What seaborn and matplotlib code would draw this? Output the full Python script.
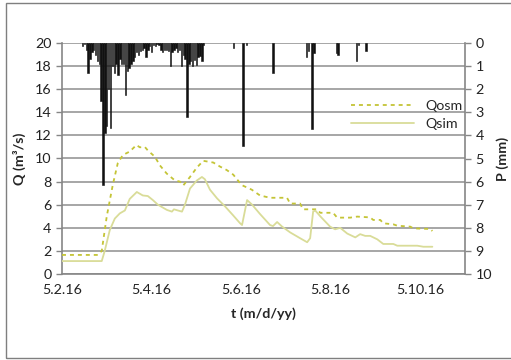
import matplotlib
matplotlib.use("Agg")
import matplotlib.pyplot as plt
import matplotlib.patches as mpatches
import seaborn as sns
import pandas as pd
import numpy as np

# ---------------- data ----------------
start = "2016-05-02"
# Observed discharge (hours since start, m3/s)
qosm_hours = [0, 19.2, 21.3, 24.0, 27.2, 29.9, 32.6, 36.3, 39.9, 41.7, 44.4, 46.0, 49.8,
              52.5, 56.1, 60.5, 63.2, 65.0, 68.6, 72.2, 75.7, 81.1, 84.7, 88.3, 91.8,
              96.3, 101.7, 106.1, 111.5, 120.6, 122.3, 127.6, 129.2, 136.8, 138.4,
              145.3, 147.5, 154.5, 158.2, 165.2, 166.8, 170.6, 172.2, 177.6, 179.7,
              186.7, 188.3, 197.4, 198.5]
qosm_vals = [1.65, 1.65, 2.0, 5.0, 7.7, 9.6, 10.3, 10.6, 11.17, 10.97, 11.0, 10.7, 10.15,
             9.4, 8.7, 8.1, 8.0, 7.67, 8.4, 9.2, 9.8, 9.65, 9.3, 9.0, 8.6,
             7.7, 7.3, 6.8, 6.6, 6.6, 6.1, 6.1, 5.6, 5.6, 5.3,
             5.3, 4.88, 4.88, 4.97, 4.9, 4.68, 4.68, 4.39, 4.3, 4.18,
             4.1, 3.95, 3.9, 3.72]
# Simulated discharge
qsim_hours = [0, 21.3, 22.9, 25.6, 28.3, 31.0, 33.7, 36.3, 40.1, 43.3, 46.0, 48.7, 51.4,
              56.2, 58.9, 60.0, 62.1, 64.3, 65.9, 68.6, 72.3, 75.0, 76.6, 79.3, 83.1,
              87.4, 91.6, 95.4, 96.5, 99.2, 101.9, 106.1, 111.5, 113.1, 115.3, 118.0,
              122.3, 127.6, 131.4, 133.0, 134.6, 135.7, 138.4, 143.7, 146.4, 149.1,
              152.9, 157.2, 159.8, 162.5, 165.2, 169.0, 172.2, 177.6, 179.7, 190.4,
              193.7, 198.5]
qsim_vals = [1.12, 1.12, 2.0, 3.8, 4.8, 5.25, 5.5, 6.5, 7.1, 6.8, 6.75, 6.4, 6.0,
             5.55, 5.4, 5.6, 5.5, 5.4, 6.0, 7.4, 8.1, 8.4, 8.2, 7.3, 6.55,
             5.85, 5.1, 4.4, 4.24, 6.4, 6.0, 5.2, 4.24, 4.15, 4.5, 4.1,
             3.6, 3.1, 2.75, 3.1, 5.4, 5.5, 5.0, 4.1, 3.87, 4.0,
             3.5, 3.17, 3.45, 3.3, 3.3, 3.0, 2.6, 2.6, 2.45, 2.45,
             2.36, 2.36]
# Precipitation (hourly, mm)
p_hours = list(range(11, 77)) + [92, 97, 99, 113, 131, 132, 134, 135, 147, 148, 158, 159, 163]
p_vals = [0.15, 0.05, 0.3, 1.3, 0.7, 0.4, 0.3, 0.5, 0.8, 0.9,
          2.5, 6.15, 3.9, 3.6, 2.0, 3.7, 1.0, 1.3, 0.9, 1.4,
          0.7, 0.9, 0.9, 2.25, 1.2, 1.1, 0.9, 0.8, 0.6, 0.4,
          0.5, 0.35, 0.3, 0.2, 0.6, 0.3, 0.15, 0.4, 0.1, 0.15,
          0.05, 0.1, 0.3, 0.4, 0.3, 0.3, 0.35, 1.0, 0.4, 0.3,
          0.2, 0.4, 0.3, 1.0, 0.5, 0.7, 3.2, 0.9, 0.8, 1.0,
          0.75, 0.95, 0.6, 0.55, 0.8, 0.1,
          0.22, 4.45, 0.1, 1.28, 0.6, 0.35, 3.72, 0.43, 0.43, 0.5, 0.8, 0.1, 0.35]
tick_dates = ["2016-05-02", "2016-05-04", "2016-05-06", "2016-05-08", "2016-05-10"]
tick_labels = ["5.2.16", "5.4.16", "5.6.16", "5.8.16", "5.10.16"]
q_ticks = [0, 2, 4, 6, 8, 10, 12, 14, 16, 18, 20]
p_ticks = [0, 1, 2, 3, 4, 5, 6, 7, 8, 9, 10]

# ---------------- build frames ----------------
t0 = pd.Timestamp(start)
df_osm = pd.DataFrame({"t": t0 + pd.to_timedelta(qosm_hours, unit="h"), "Q": qosm_vals})
df_sim = pd.DataFrame({"t": t0 + pd.to_timedelta(qsim_hours, unit="h"), "Q": qsim_vals})
df_p = pd.DataFrame({"t": t0 + pd.to_timedelta(p_hours, unit="h"), "P": p_vals})

sns.set_theme(style="white")
plt.rcParams["font.family"] = ["Lato", "DejaVu Sans"]

fig = plt.figure(figsize=(5.11, 3.60), dpi=100)
ax = fig.add_axes([62 / 511, 1 - 274 / 360, (465 - 62) / 511, (274 - 43) / 360])

grid_c = "#a6a6a6"
axis_c = "#868686"
c_osm = "#c4c436"
c_sim = "#d9dc98"
fs = 10.3

for y in q_ticks:
    ax.axhline(y, color=grid_c, lw=1.4, zorder=0)

sns.lineplot(data=df_osm, x="t", y="Q", ax=ax, color=c_osm, lw=1.3,
             linestyle=(0, (2.2, 2.2)), label="Qosm", zorder=3)
sns.lineplot(data=df_sim, x="t", y="Q", ax=ax, color=c_sim, lw=1.3,
             label="Qsim", zorder=3)

ax.set_xlim(pd.Timestamp("2016-05-02"), pd.Timestamp("2016-05-11"))
ax.set_ylim(0, 20)
ax.set_xticks(pd.to_datetime(tick_dates))
ax.set_xticklabels(tick_labels)
ax.set_yticks(q_ticks)
ax.tick_params(axis="both", labelsize=fs, colors="#222222", length=4,
               width=1, direction="out")
ax.tick_params(axis="both", color=axis_c)
for s in ["top", "right"]:
    ax.spines[s].set_visible(False)
for s in ["left", "bottom"]:
    ax.spines[s].set_color(axis_c)
    ax.spines[s].set_linewidth(1.2)
ax.set_xlabel("t (m/d/yy)", fontsize=fs, fontweight="bold", labelpad=8)
ax.set_ylabel("Q (m³/s)", fontsize=fs, fontweight="bold", labelpad=6)

leg = ax.legend(loc="upper left", bbox_to_anchor=(0.685, 0.81), frameon=False,
                fontsize=fs, handlelength=4.4, handletextpad=0.8, labelspacing=0.45)

ax2 = ax.twinx()
ax2.bar(df_p["t"], df_p["P"], width=0.75 / 24, color="#111111",
        edgecolor="#111111", linewidth=0.4, zorder=2)
ax2.set_ylim(10, 0)
ax2.set_yticks(p_ticks)
ax2.tick_params(axis="y", labelsize=fs, colors="#222222", length=4, width=1, direction="out")
ax2.tick_params(axis="y", color=axis_c)
for s in ["top", "left", "bottom"]:
    ax2.spines[s].set_visible(False)
ax2.spines["right"].set_color(axis_c)
ax2.spines["right"].set_linewidth(1.2)
ax2.set_ylabel("P (mm)", fontsize=fs, fontweight="bold", labelpad=3)
ax2.grid(False)

fig.patches.append(mpatches.Rectangle((6 / 511, 1 - 358 / 360), (520 - 6) / 511, (358 - 3) / 360,
                                      transform=fig.transFigure, fill=False,
                                      edgecolor="#7f7f7f", lw=1))
fig.savefig("out.png", dpi=100)
